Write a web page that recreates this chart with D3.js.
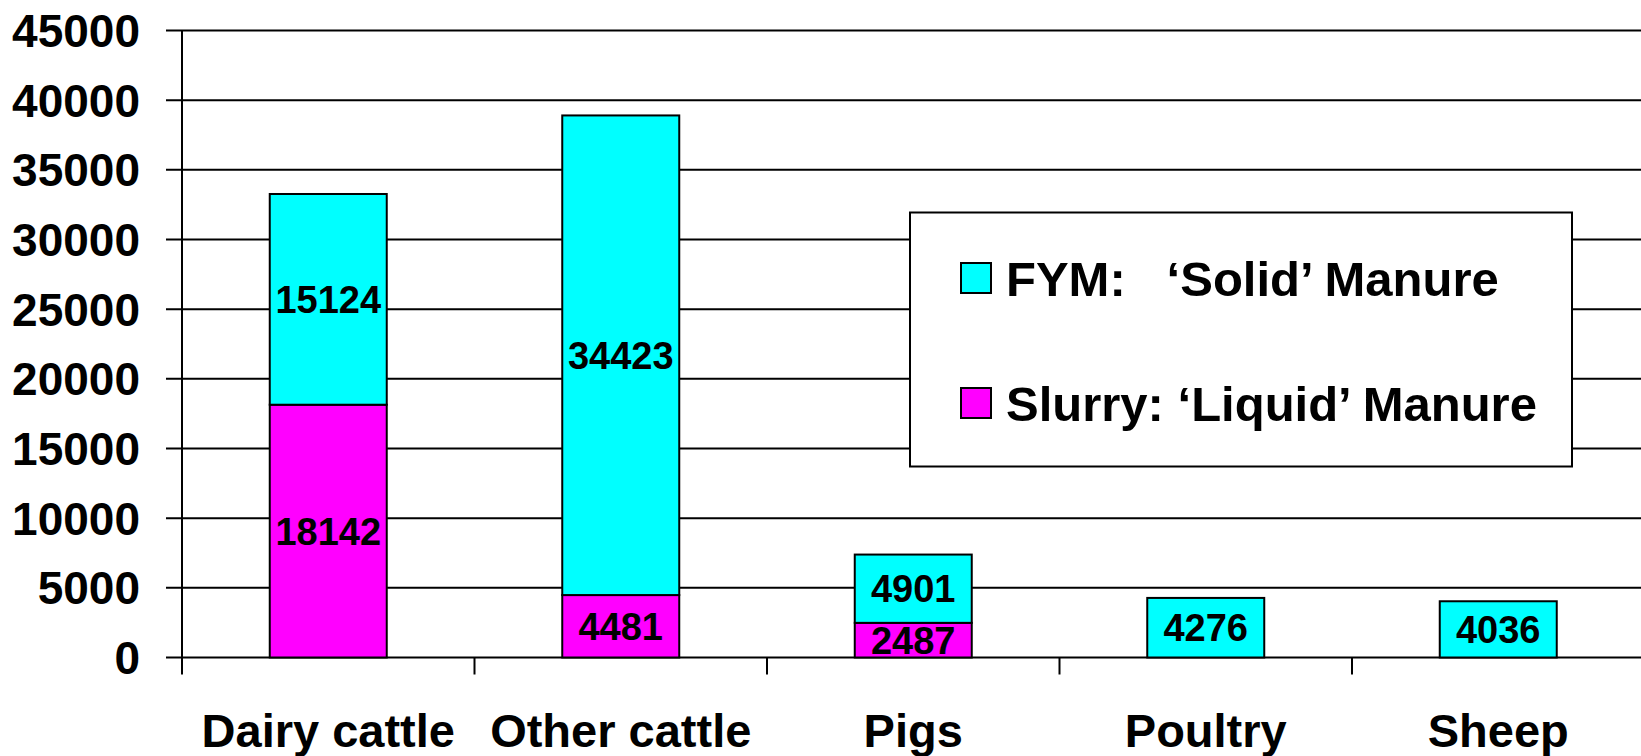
<!DOCTYPE html>
<html>
<head>
<meta charset="utf-8">
<script src="https://cdn.jsdelivr.net/npm/d3@7"></script>
<style>
  html, body { margin: 0; padding: 0; background: #fff; overflow: hidden; }
  svg { display: block; font-family: "Liberation Sans", Arial, sans-serif; font-weight: bold; }
</style>
</head>
<body>
<svg id="chart" width="1641" height="756"></svg>
<script>
const categories = ["Dairy cattle", "Other cattle", "Pigs", "Poultry", "Sheep"];
const slurry = [18142, 4481, 2487, 0, 0];
const fym = [15124, 34423, 4901, 4276, 4036];
const yTicks = [0, 5000, 10000, 15000, 20000, 25000, 30000, 35000, 40000, 45000];
const seriesNames = ["FYM:   \u2018Solid\u2019 Manure", "Slurry: \u2018Liquid\u2019 Manure"];
const seriesColors = ["#00FFFF", "#FF00FF"];

(function () {
const svg = d3.select("#chart");
const pL = 182, pR = 1644.5, pT = 30.5, pB = 657.5;

const y = d3.scaleLinear().domain([0, 45000]).range([pB, pT]);
const xCat = d3.scaleBand().domain(categories).range([pL, pR]).padding(0);
const xBar = d3.scaleBand().domain(categories).range([pL, pR]).paddingInner(0.6).paddingOuter(0.3);

// gridlines
svg.append("g").selectAll("line").data(yTicks).join("line")
  .attr("x1", pL - 16).attr("x2", pR)
  .attr("y1", d => y(d)).attr("y2", d => y(d))
  .attr("stroke", "#000").attr("stroke-width", 2);

// y axis line
svg.append("line").attr("x1", pL).attr("x2", pL).attr("y1", pT).attr("y2", pB + 17)
  .attr("stroke", "#000").attr("stroke-width", 2);

// category ticks
svg.append("g").selectAll("line").data(categories.slice(1)).join("line")
  .attr("x1", d => xCat(d)).attr("x2", d => xCat(d))
  .attr("y1", pB).attr("y2", pB + 17)
  .attr("stroke", "#000").attr("stroke-width", 2);

// y tick labels
svg.append("g").selectAll("text").data(yTicks).join("text")
  .attr("x", 140).attr("y", d => y(d)).attr("dy", "0.36em")
  .attr("text-anchor", "end").attr("font-size", 46)
  .text(d => d);

// stacked data
const rows = categories.map((c, i) => ({ cat: c, slurry: slurry[i], fym: fym[i] }));
const stack = d3.stack().keys(["slurry", "fym"])(rows);
const colorOf = { slurry: seriesColors[1], fym: seriesColors[0] };

const bw = xBar.bandwidth();
stack.forEach(layer => {
  const g = svg.append("g");
  g.selectAll("rect").data(layer.filter(d => d[1] - d[0] > 0)).join("rect")
    .attr("x", d => xBar(d.data.cat)).attr("width", bw)
    .attr("y", d => y(d[1])).attr("height", d => y(d[0]) - y(d[1]))
    .attr("fill", colorOf[layer.key]).attr("stroke", "#000").attr("stroke-width", 2);
});
stack.forEach(layer => {
  svg.append("g").selectAll("text").data(layer.filter(d => d[1] - d[0] > 0)).join("text")
    .attr("x", d => xBar(d.data.cat) + bw / 2)
    .attr("y", d => (y(d[0]) + y(d[1])) / 2).attr("dy", "0.36em")
    .attr("text-anchor", "middle").attr("font-size", 38)
    .text(d => d[1] - d[0]);
});

// category labels
svg.append("g").selectAll("text").data(categories).join("text")
  .attr("x", d => xCat(d) + xCat.bandwidth() / 2).attr("y", 747)
  .attr("text-anchor", "middle").attr("font-size", 47)
  .text(d => d);

// legend
const lg = svg.append("g");
lg.append("rect").attr("x", 910).attr("y", 212.5).attr("width", 662).attr("height", 254)
  .attr("fill", "#fff").attr("stroke", "#000").attr("stroke-width", 2);
const legRows = [0, 1];
lg.selectAll("rect.sw").data(legRows).join("rect").attr("class", "sw")
  .attr("x", 961).attr("y", i => 263 + i * 125).attr("width", 30).attr("height", 30)
  .attr("fill", i => seriesColors[i]).attr("stroke", "#000").attr("stroke-width", 2);
lg.selectAll("text.lt").data(legRows).join("text").attr("class", "lt")
  .attr("x", 1006).attr("y", i => 296 + i * 125)
  .attr("font-size", 49).style("white-space", "pre")
  .text(i => seriesNames[i]);
})();
</script>
</body>
</html>
